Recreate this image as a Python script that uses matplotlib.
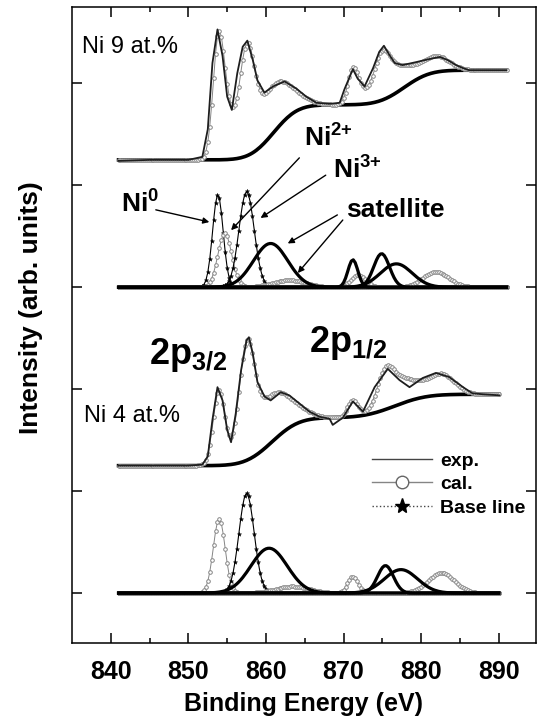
import numpy as np
import matplotlib
matplotlib.use('Agg')
import matplotlib.pyplot as plt
from matplotlib.lines import Line2D
from math import erf, log

plt.rcParams['font.family'] = ['Liberation Sans', 'DejaVu Sans']
plt.rcParams['mathtext.fontset'] = 'custom'
plt.rcParams['mathtext.rm'] = 'Liberation Sans'
plt.rcParams['mathtext.bf'] = 'Liberation Sans:bold'
plt.rcParams['mathtext.it'] = 'Liberation Sans:italic'

# ---- data ---------------------------------------------------------------
# Ni 9 at.% : measured spectrum (binding energy eV, intensity arb.)
exp9_e = [841.0, 845.0, 850.0, 851.8, 852.5, 853.1, 853.75, 854.4, 855.0, 855.6,
          856.3, 857.0, 857.6, 858.3, 858.9, 859.8, 860.9, 862.4, 863.9, 865.2,
          866.5, 868.2, 869.5, 870.1, 871.2, 871.8, 872.7, 873.8, 874.6, 875.2,
          875.9, 876.6, 877.6, 879.4, 881.1, 882.4, 883.4, 884.5, 885.4, 886.2,
          888.0, 891.0]
exp9_i = [4.24, 4.25, 4.25, 4.28, 4.55, 5.20, 5.53, 5.27, 4.87, 4.74,
          5.10, 5.36, 5.42, 5.23, 5.03, 4.91, 4.97, 5.02, 4.95, 4.87,
          4.81, 4.80, 4.81, 4.94, 5.14, 5.05, 4.97, 5.15, 5.31, 5.37,
          5.28, 5.20, 5.18, 5.21, 5.24, 5.26, 5.23, 5.18, 5.15, 5.13,
          5.13, 5.13]

# Ni 9 at.% : background (start level, step centres, step heights, step widths)
bg9_level = 4.25
bg9_center = [861.0, 877.8]
bg9_height = [0.54, 0.34]
bg9_width = [2.4, 2.6]

# Ni 9 at.% : fitted components (centre eV, height, FWHM eV, kind), drawn at offset 3
comp9_offset = 3.0
comp9_center = [853.8, 854.7, 857.5, 860.6, 863.0, 871.2, 871.9, 874.9, 876.8, 881.9]
comp9_height = [0.91, 0.53, 0.94, 0.43, 0.07, 0.27, 0.12, 0.33, 0.23, 0.15]
comp9_fwhm = [1.6, 2.1, 2.3, 5.2, 5.0, 1.5, 2.2, 2.4, 4.8, 4.0]
comp9_kind = ['dotted', 'grey', 'dotted', 'thick', 'grey',
              'thick', 'grey', 'thick', 'thick', 'grey']

# Ni 4 at.% : measured spectrum
exp4_e = [841.0, 845.0, 850.0, 851.8, 852.5, 853.1, 853.75, 854.4, 855.0, 855.5,
          856.1, 856.8, 857.5, 857.8, 858.3, 858.9, 859.8, 860.6, 861.9, 863.0,
          864.3, 865.6, 866.9, 868.2, 868.6, 869.9, 871.2, 872.5, 874.0, 875.7,
          877.2, 878.5, 880.2, 881.9, 883.6, 885.4, 886.6, 888.0, 890.1]
exp4_i = [1.25, 1.25, 1.25, 1.26, 1.34, 1.70, 2.02, 1.89, 1.60, 1.48,
          1.76, 2.19, 2.48, 2.51, 2.35, 2.07, 1.93, 1.89, 1.97, 1.94,
          1.86, 1.78, 1.73, 1.71, 1.65, 1.72, 1.88, 1.78, 2.02, 2.20,
          2.09, 2.02, 2.11, 2.16, 2.12, 2.02, 1.96, 1.95, 1.94]

bg4_level = 1.25
bg4_center = [860.8, 876.6]
bg4_height = [0.47, 0.23]
bg4_width = [2.7, 3.2]

comp4_offset = 0.0
comp4_center = [853.97, 857.5, 860.4, 863.4, 871.2, 875.4, 877.4, 882.6]
comp4_height = [0.73, 0.98, 0.44, 0.065, 0.16, 0.27, 0.23, 0.20]
comp4_fwhm = [1.8, 2.3, 5.5, 5.0, 1.6, 2.4, 5.0, 4.0]
comp4_kind = ['grey', 'dotted', 'thick', 'grey', 'grey', 'thick', 'thick', 'grey']

xticks = [840, 850, 860, 870, 880, 890]
xminor = [845, 855, 865, 875, 885]
yticks = [0, 1, 2, 3, 4, 5]


def gauss(e, center, height, fwhm):
    return height * np.exp(-4 * log(2) * (e - center) ** 2 / fwhm ** 2)


def background(e, level, centers, heights, widths):
    b = np.full_like(e, level)
    for c, h, w in zip(centers, heights, widths):
        b += h * 0.5 * (1 + np.array([erf((x - c) / (w * np.sqrt(2))) for x in e]))
    return b


GREY = '#858585'
styles = {
    'dotted': dict(color='black', lw=0.8, marker='*', ms=3.2, mec='black', mfc='black', mew=0.3),
    'grey': dict(color=GREY, lw=0.7, marker='o', ms=2.6, mec=GREY, mfc='white', mew=0.7),
    'thick': dict(color='black', lw=2.3),
}

fig = plt.figure(figsize=(5.41, 7.24), dpi=100)
ax = fig.add_axes([72 / 541, 81 / 724, 464 / 541, 636 / 724])


def draw_panel(exp_e, exp_i, bg_par, comps, offset, e_end):
    e = np.arange(841.0, e_end + 0.01, 0.25)
    centers, heights, fwhms, kinds = comps
    total = np.zeros_like(e)
    for c, h, w, k in zip(centers, heights, fwhms, kinds):
        g = gauss(e, c, h, w)
        total += g
        ax.plot(e, offset + g, zorder=3 if k == 'thick' else 2, **styles[k])
    bg = background(e, *bg_par)
    ax.plot(e, bg, color='black', lw=2.6, zorder=4)
    ax.plot(e, bg + total, color=GREY, lw=0.7, marker='o', ms=2.6, mfc='white',
            mec=GREY, mew=0.7, zorder=5)
    ax.plot(exp_e, exp_i, color='#1e1e1e', lw=1.3, zorder=6)


draw_panel(exp9_e, exp9_i, (bg9_level, bg9_center, bg9_height, bg9_width),
           (comp9_center, comp9_height, comp9_fwhm, comp9_kind), comp9_offset, 891.0)
draw_panel(exp4_e, exp4_i, (bg4_level, bg4_center, bg4_height, bg4_width),
           (comp4_center, comp4_height, comp4_fwhm, comp4_kind), comp4_offset, 890.1)

ax.set_xlim(835.0, 894.8)
ax.set_ylim(-0.49, 5.75)
ax.set_xticks(xticks)
ax.set_xticks(xminor, minor=True)
ax.set_yticks(yticks)
ax.tick_params(axis='both', which='both', direction='in', top=True, right=True, width=1.1)
ax.tick_params(axis='both', which='major', length=7)
ax.tick_params(axis='both', which='minor', length=3.5)
ax.tick_params(axis='x', labelsize=18, pad=12)
ax.tick_params(axis='y', labelleft=False)
for lab in ax.get_xticklabels():
    lab.set_fontweight('bold')
for sp in ax.spines.values():
    sp.set_linewidth(1.1)

ax.set_xlabel('Binding Energy (eV)', fontsize=18, fontweight='bold', labelpad=6)
ax.set_ylabel('Intensity (arb. units)', fontsize=19, fontweight='bold')
ax.yaxis.set_label_coords(-0.062, 0.527)

# sample labels
ax.text(836.3, 5.30, 'Ni 9 at.%', fontsize=17)
ax.text(836.6, 1.68, 'Ni 4 at.%', fontsize=17)

# peak labels and arrows
ax.text(841.3, 3.73, r'$\mathbf{Ni^{0}}$', fontsize=19)
ax.text(864.9, 4.38, r'$\mathbf{Ni^{2{+}}}$', fontsize=19)
ax.text(868.7, 4.07, r'$\mathbf{Ni^{3{+}}}$', fontsize=19)
ax.text(870.3, 3.69, 'satellite', fontsize=19, fontweight='bold')
ax.text(844.9, 2.25, r'$\mathbf{2p_{3/2}}$', fontsize=26)
ax.text(865.6, 2.37, r'$\mathbf{2p_{1/2}}$', fontsize=26)

arrow = dict(arrowstyle='-|>', color='black', lw=1.0, mutation_scale=9, shrinkA=0, shrinkB=0)
for start, end in [((845.8, 3.76), (852.7, 3.64)),
                   ((864.3, 4.27), (855.5, 3.56)),
                   ((867.7, 4.10), (859.3, 3.68)),
                   ((869.2, 3.71), (862.8, 3.43)),
                   ((869.9, 3.66), (864.1, 3.14))]:
    ax.annotate('', xy=end, xytext=start, arrowprops=arrow)

handles = [
    Line2D([], [], color='#444444', lw=1.0),
    Line2D([], [], color=GREY, lw=1.0, marker='o', ms=9, mfc='white', mec='#666666'),
    Line2D([], [], color='#444444', lw=1.0, ls=':', marker='*', ms=11, mfc='black', mec='black'),
]
leg = ax.legend(handles, ['exp.', 'cal.', 'Base line'], loc='upper left',
                bbox_to_anchor=(0.646, 0.30), frameon=False, numpoints=1,
                borderpad=0, borderaxespad=0, handlelength=3.1, handletextpad=0.4,
                labelspacing=0.3, prop=dict(size=14, weight='bold'))

fig.savefig('out.png', dpi=100)
